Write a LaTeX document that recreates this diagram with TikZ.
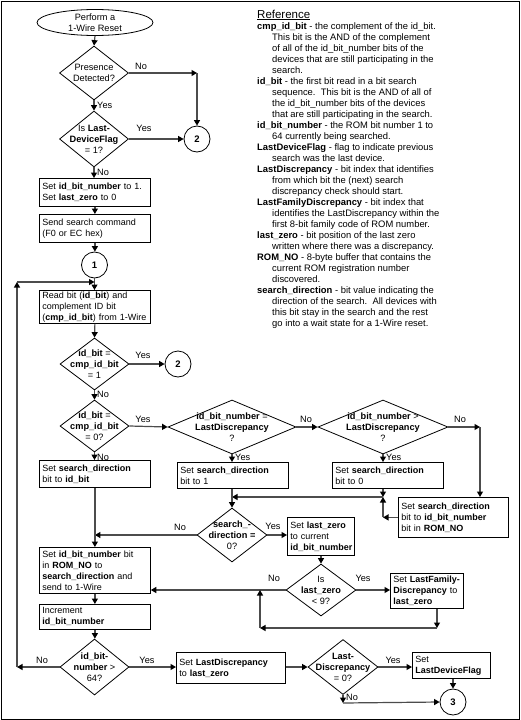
\documentclass[tikz,border=0pt]{standalone}
\usepackage{fontspec}
\setmainfont{Liberation Sans}
\usetikzlibrary{shapes.geometric,arrows.meta}
\begin{document}
\begin{tikzpicture}[x=1pt,y=-1pt,
  every node/.style={font=\fontsize{9.2}{11}\selectfont},
  box/.style={draw=black,line width=0.8pt,anchor=north west,inner xsep=3pt,inner ysep=0pt,align=left,text width=#1,font=\fontsize{9}{11}\selectfont},
  dia/.style n args={2}{draw=black,diamond,line width=0.8pt,inner sep=0pt,minimum width=#1pt,minimum height=#2pt},
  dtext/.style={align=center,inner sep=0pt,font=\fontsize{9.2}{11}\selectfont},
  conn/.style={circle,draw=black,line width=0.8pt,inner sep=0pt,minimum size=26pt,font=\fontsize{9.5}{11}\selectfont\bfseries},
  arr/.style={draw=black!70,line width=1.2pt,-{Triangle[length=5.5pt,width=6pt,color=black]}},
  yn/.style={inner sep=0pt,font=\fontsize{9.2}{11}\selectfont},
  reftext/.style={inner sep=0pt,align=left,anchor=north west,font=\fontsize{9.4}{11}\selectfont}
]
\useasboundingbox (0,0) rectangle (520,720);
\draw[line width=1pt] (1,1) rectangle (519,719);

% ---------- nodes ----------
\node[ellipse,draw=black,line width=0.8pt,inner sep=0pt,minimum width=116pt,minimum height=26pt,
      label={[dtext]center:Perform a\\1-Wire Reset}] (ell) at (95,22.5) {};
\node[dia={69}{54},label={[dtext]center:Presence\\Detected?}] (d1) at (94,73) {};
\node[dia={69}{56},label={[dtext]center:Is \textbf{Last-}\\\textbf{DeviceFlag}\\= 1?}] (d2) at (94,139) {};
\node[conn] (c2a) at (197,139) {2};
\node[box=105pt,minimum height=28pt] (b1) at (39,178) {Set \textbf{id\_bit\_number} to 1.\\Set \textbf{last\_zero} to 0};
\node[box=105pt,minimum height=28pt] (b2) at (39,214) {Send search command\\(F0 or EC hex)};
\node[conn] (c1) at (94.5,265) {1};
\node[box=105pt,minimum height=33pt] (b3) at (39,290) {Read bit (\textbf{id\_bit}) and\\complement ID bit\\(\textbf{cmp\_id\_bit}) from 1-Wire};
\node[dia={69}{52},label={[dtext]center:\textbf{id\_bit} =\\\textbf{cmp\_id\_bit}\\= 1}] (d3) at (94.5,364) {};
\node[conn] (c2b) at (178,364) {2};
\node[dia={69}{52},label={[dtext]center:\textbf{id\_bit} =\\\textbf{cmp\_id\_bit}\\= 0?}] (d4) at (94.5,426) {};
\node[box=105pt,minimum height=27pt] (b4) at (39,460) {Set \textbf{search\_direction}\\bit to \textbf{id\_bit}};
\node[dia={128}{54},label={[dtext]center:\textbf{id\_bit\_number} =\\\textbf{LastDiscrepancy}\\?}] (d5) at (232,427) {};
\node[dia={130}{54},label={[dtext]center:\textbf{id\_bit\_number} >\\\textbf{LastDiscrepancy}\\?}] (d6) at (383,427) {};
\node[box=105pt,minimum height=26pt] (b5) at (177,462) {Set \textbf{search\_direction}\\bit to 1};
\node[box=105pt,minimum height=26pt] (b6) at (332,462) {Set \textbf{search\_direction}\\bit to 0};
\node[box=104pt,minimum height=40pt] (b7) at (398,497) {Set \textbf{search\_direction}\\bit to \textbf{id\_bit\_number}\\bit in \textbf{ROM\_NO}};
\node[dia={70}{54},label={[dtext]center:\textbf{search\_-}\\\textbf{direction =}\\0?}] (d7) at (232,535) {};
\node[box=61pt,minimum height=38pt] (b9) at (287,517) {Set \textbf{last\_zero}\\to current\\\textbf{id\_bit\_number}};
\node[box=105pt,minimum height=46pt] (b8) at (39,547) {Set \textbf{id\_bit\_number} bit\\in \textbf{ROM\_NO} to\\\textbf{search\_direction} and\\send to 1-Wire};
\node[dia={70}{52},label={[dtext]center:Is\\\textbf{last\_zero}\\< 9?}] (d8) at (321,590) {};
\node[box=67pt,minimum height=35pt] (b10) at (390,573) {Set \textbf{LastFamily-}\\\textbf{Discrepancy} to\\\textbf{last\_zero}};
\node[box=105pt,minimum height=25pt] (b11) at (39,604) {Increment\\\textbf{id\_bit\_number}};
\node[dia={69}{56},label={[dtext]center:\textbf{id\_bit-}\\\textbf{number} >\\64?}] (d9) at (94.5,667) {};
\node[box=103pt,minimum height=31pt] (b12) at (176,652) {Set \textbf{LastDiscrepancy}\\to \textbf{last\_zero}};
\node[box=72pt,minimum height=26pt] (b13) at (412,652) {Set\\\textbf{LastDeviceFlag}};
\node[dia={70}{55},label={[dtext]center:\textbf{Last-}\\\textbf{Discrepancy}\\= 0?}] (d10) at (343,667) {};
\node[conn] (c3) at (453,702) {3};

% ---------- reference text ----------
\node[inner sep=0pt,anchor=west,font=\fontsize{11.5}{13}\selectfont] (reft) at (257,15) {\underline{Reference}};
\node[reftext] (refb) at (257,22) {%
\textbf{cmp\_id\_bit} - the complement of the id\_bit.\\
\hspace*{15pt}This bit is the AND of the complement\\
\hspace*{15pt}of all of the id\_bit\_number bits of the\\
\hspace*{15pt}devices that are still participating in the\\
\hspace*{15pt}search.\\
\textbf{id\_bit} - the first bit read in a bit search\\
\hspace*{15pt}sequence.\ \ This bit is the AND of all of\\
\hspace*{15pt}the id\_bit\_number bits of the devices\\
\hspace*{15pt}that are still participating in the search.\\
\textbf{id\_bit\_number} - the ROM bit number 1 to\\
\hspace*{15pt}64 currently being searched.\\
\textbf{LastDeviceFlag} - flag to indicate previous\\
\hspace*{15pt}search was the last device.\\
\textbf{LastDiscrepancy} - bit index that identifies\\
\hspace*{15pt}from which bit the (next) search\\
\hspace*{15pt}discrepancy check should start.\\
\textbf{LastFamilyDiscrepancy} - bit index that\\
\hspace*{15pt}identifies the LastDiscrepancy within the\\
\hspace*{15pt}first 8-bit family code of ROM number.\\
\textbf{last\_zero} - bit position of the last zero\\
\hspace*{15pt}written where there was a discrepancy.\\
\textbf{ROM\_NO} - 8-byte buffer that contains the\\
\hspace*{15pt}current ROM registration number\\
\hspace*{15pt}discovered.\\
\textbf{search\_direction} - bit value indicating the\\
\hspace*{15pt}direction of the search.\ \ All devices with\\
\hspace*{15pt}this bit stay in the search and the rest\\
\hspace*{15pt}go into a wait state for a 1-Wire reset.};

% ---------- helper coordinates ----------
\coordinate (k1) at (197,73);
\coordinate (k6) at (480,427);
\coordinate (j) at (383,497);
\coordinate (k9) at (17,667);
\coordinate (k0) at (17,282);
\coordinate (m0) at (94.5,282);
\coordinate (f1) at (437,628);
\coordinate (f2) at (260,628);
\coordinate (f3) at (260,590);
\coordinate (n10) at (343,703);

% ---------- connectors ----------
\draw[arr] (ell.south) -- (d1.north);
\draw[arr] (d1.east) -- (k1);
\draw[arr] (k1) -- (c2a.north);
\draw[arr] (d1.south) -- (d2.north);
\draw[arr] (d2.east) -- (c2a.west);
\draw[arr] (d2.south) -- (d2.south |- b1.north);
\draw[arr] (b1.south) -- (b1.south |- b2.north);
\draw[arr] (b2.south) -- (b2.south |- c1.north);
\draw[arr] (c1.south) -- (c1.south |- b3.north);
\draw[arr] (d9.west) -- (k9);
\draw[arr] (k9) -- (k0);
\draw[arr] (k0) -- (m0);
\draw[arr] (b3.south) -- (d3.north);
\draw[arr] (d3.east) -- (c2b.west);
\draw[arr] (d3.south) -- (d4.north);
\draw[arr] (d4.east) -- (d5.west);
\draw[arr] (d4.south) -- (d4.south |- b4.north);
\draw[arr] (d5.east) -- (d6.west);
\draw[arr] (d5.south) -- (d5.south |- b5.north);
\draw[arr] (d6.south) -- (d6.south |- b6.north);
\draw[arr] (d6.east) -- (k6);
\draw[arr] (k6) -- (k6 |- b7.north);
\draw[arr] (j |- b6.south) -- (j);
\draw[arr] (b7.west) -- (b7.west -| j);
\draw[arr] (b7.west -| j) -- (j);
\draw[arr] (j) -- (j -| d7.north);
\draw[arr] (d7.north |- b5.south) -- (d7.north);
\draw[arr] (d7.west) -- (d7.west -| b4.south);
\draw[arr] (b4.south) -- (b4.south |- b8.north);
\draw[arr] (d7.east) -- (d7.east -| b9.west);
\draw[arr] (d8.north |- b9.south) -- (d8.north);
\draw[arr] (d8.west) -- (d8.west -| b8.east);
\draw[arr] (d8.east) -- (d8.east -| b10.west);
\draw[arr] (f1 |- b10.south) -- (f1);
\draw[arr] (f1) -- (f2);
\draw[arr] (f2) -- (f3);
\draw[arr] (b8.south) -- (b8.south |- b11.north);
\draw[arr] (b11.south) -- (b11.south |- d9.north);
\draw[arr] (d9.east) -- (d9.east -| b12.west);
\draw[arr] (b12.east |- d10.west) -- (d10.west);
\draw[arr] (d10.east) -- (d10.east -| b13.west);
\draw[arr] (c3.north |- b13.south) -- (c3.north);
\draw[arr] (d10.south) -- (n10);
\draw[arr] (n10) -- (c3.west);

% ---------- yes / no labels ----------
\node[yn] (l1) at (141,66) {No};
\node[yn,anchor=west] (l2) at (97,105) {Yes};
\node[yn] (l3) at (144,128) {Yes};
\node[yn,anchor=west] (l4) at (97,172) {No};
\node[yn] (l5) at (143,355) {Yes};
\node[yn,anchor=west] (l6) at (97,394) {No};
\node[yn] (l7) at (143,419) {Yes};
\node[yn,anchor=west] (l8) at (97,457) {No};
\node[yn] (l9) at (306,419) {No};
\node[yn,anchor=west] (l10) at (235,457) {Yes};
\node[yn] (l11) at (460,419) {No};
\node[yn,anchor=west] (l12) at (386,457) {Yes};
\node[yn] (l13) at (180,527) {No};
\node[yn] (l14) at (273,526) {Yes};
\node[yn] (l15) at (274,578) {No};
\node[yn] (l16) at (363,578) {Yes};
\node[yn] (l17) at (42,660) {No};
\node[yn] (l18) at (147,660) {Yes};
\node[yn] (l19) at (393,660) {Yes};
\node[yn,anchor=west] (l20) at (346,697) {No};
\end{tikzpicture}
\end{document}
